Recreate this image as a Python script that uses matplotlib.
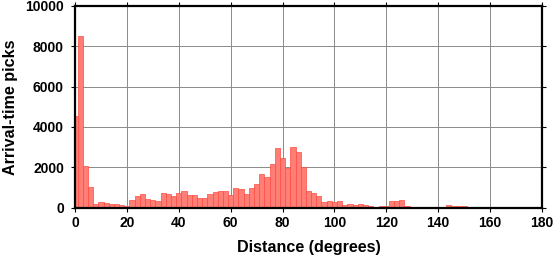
import matplotlib
matplotlib.use("Agg")
import matplotlib.pyplot as plt
import numpy as np

# Bin centres (degrees) and counts of arrival-time picks
bin_centers = list(range(0, 182, 2))
counts = [
    4520, 8530, 2050, 1000, 180, 260, 230, 180, 160, 120,   # 0-18
    100, 360, 575, 675, 410, 375, 350, 710, 660, 560,       # 20-38
    710, 810, 610, 610, 455, 455, 650, 790, 810, 810,       # 40-58
    610, 960, 940, 660, 975, 1175, 1670, 1505, 2170, 2960,  # 60-78
    2450, 1985, 3010, 2745, 2035, 825, 745, 570, 295, 330,  # 80-98
    300, 330, 145, 195, 130, 195, 110, 60, 30, 80,          # 100-118
    80, 330, 330, 370, 80, 30, 30, 30, 30, 20,              # 120-138
    20, 30, 130, 80, 80, 80, 30, 20, 0, 20,                 # 140-158
    20, 20, 10, 0, 20, 20, 20, 20, 0, 0,                    # 160-178
    0,                                                      # 180
]
x_ticks = [0, 20, 40, 60, 80, 100, 120, 140, 160, 180]
y_ticks = [0, 2000, 4000, 6000, 8000, 10000]

plt.rcParams['font.family'] = ['Liberation Sans', 'DejaVu Sans']
plt.rcParams['font.weight'] = 'bold'

W, H = 555, 258
fig = plt.figure(figsize=(W / 100, H / 100), dpi=100)
left, right, bottom, top = 75, 542, 207.6, 6
ax = fig.add_axes([left / W, 1 - bottom / H, (right - left) / W, (bottom - top) / H])

ax.bar(bin_centers, counts, width=2, align='center',
       facecolor='#FF7F76', edgecolor='#FF4A40', linewidth=0.5, zorder=2)

ax.set_xlim(0, 180)
ax.set_ylim(0, 10000)
ax.set_xticks(x_ticks)
ax.set_yticks(y_ticks)
ax.grid(True, color='#8a8a8a', linewidth=0.7, zorder=0)
ax.set_axisbelow(True)

for s in ax.spines.values():
    s.set_linewidth(1.6)
    s.set_color('black')
    s.set_zorder(3)

ax.tick_params(axis='both', which='both', direction='out', length=3, width=0.8,
               top=True, right=True, labeltop=False, labelright=False,
               labelsize=10)
ax.tick_params(axis='x', pad=3)
ax.tick_params(axis='y', pad=5)
for lab in ax.get_xticklabels() + ax.get_yticklabels():
    lab.set_fontweight('bold')

ax.set_xlabel('Distance (degrees)', fontsize=11.6, fontweight='bold', labelpad=7)
ax.set_ylabel('Arrival-time picks', fontsize=11.6, fontweight='bold', labelpad=5)

fig.savefig('out.png', dpi=100)
